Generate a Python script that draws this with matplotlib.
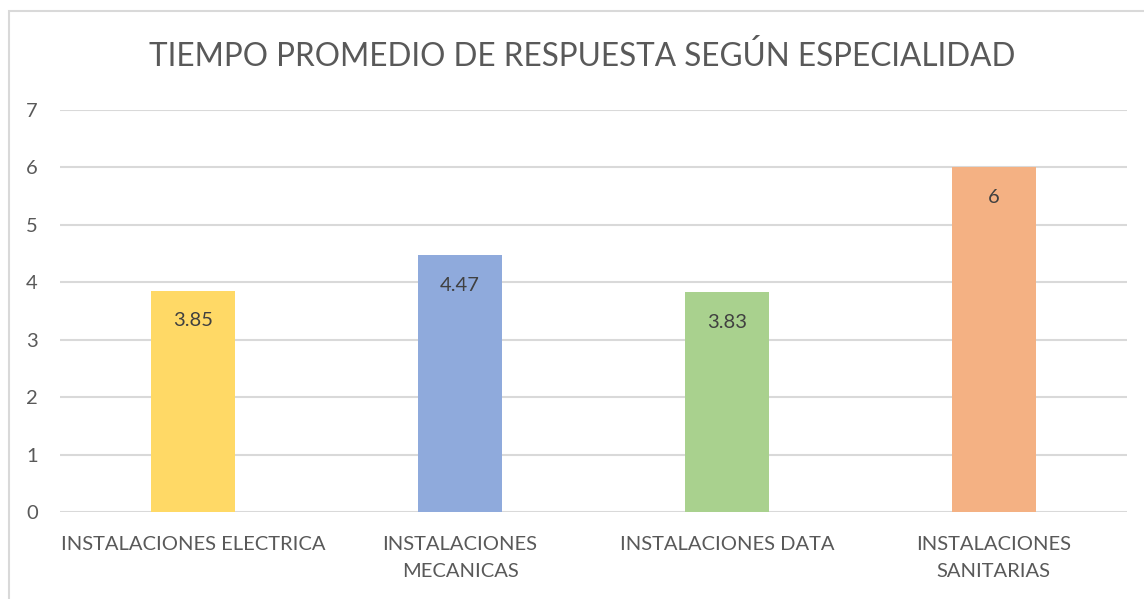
import matplotlib
matplotlib.use("Agg")
import matplotlib.pyplot as plt
from matplotlib.patches import Rectangle

categories = ["INSTALACIONES ELECTRICA", "INSTALACIONES\nMECANICAS",
              "INSTALACIONES DATA", "INSTALACIONES\nSANITARIAS"]
values = [3.85, 4.47, 3.83, 6]
labels = ["3.85", "4.47", "3.83", "6"]
colors = ["#FFD966", "#8FAADC", "#A9D18E", "#F4B183"]
yticks = [0, 1, 2, 3, 4, 5, 6, 7]

plt.rcParams["font.family"] = ["Lato", "DejaVu Sans"]

W, H = 1144, 599
fig = plt.figure(figsize=(W / 100, H / 100), dpi=100)

# chart frame (runs past the bottom and right edges)
fig.patches.append(Rectangle((9 / W, -10 / H), (W - 9 + 10) / W, (H - 11 + 10) / H,
                             transform=fig.transFigure, fill=False,
                             edgecolor="#d9d9d9", linewidth=1.5))

x0, x1 = 60, 1127
y0, y7 = 512, 110
ax = fig.add_axes([x0 / W, (H - y0) / H, (x1 - x0) / W, (y0 - y7) / H])
ax.set_xlim(-0.5, 3.5)
ax.set_ylim(0, 7)

ax.bar(range(len(values)), values, width=0.315, color=colors, zorder=3)
for i, (v, t) in enumerate(zip(values, labels)):
    ax.annotate(t, (i, v), xytext=(0, -30), textcoords="offset pixels",
                ha="center", va="center", fontsize=14.5, color="#404040", zorder=4)

ax.set_yticks(yticks)
ax.set_yticklabels([str(t) for t in yticks], fontsize=14.5, color="#595959")
ax.set_xticks(range(len(categories)))
ax.set_xticklabels(categories, fontsize=14.5, color="#595959", linespacing=1.75)
ax.tick_params(axis="both", length=0)
ax.tick_params(axis="y", pad=16)
ax.tick_params(axis="x", pad=17)
ax.grid(axis="y", color="#d9d9d9", linewidth=1.5, zorder=0)
for s in ax.spines.values():
    s.set_visible(False)

fig.text(582 / W, 1 - 57 / H, "TIEMPO PROMEDIO DE RESPUESTA SEGÚN ESPECIALIDAD",
         ha="center", va="center", fontsize=22.7, color="#595959")

fig.savefig("out.png", dpi=100, facecolor="white")
